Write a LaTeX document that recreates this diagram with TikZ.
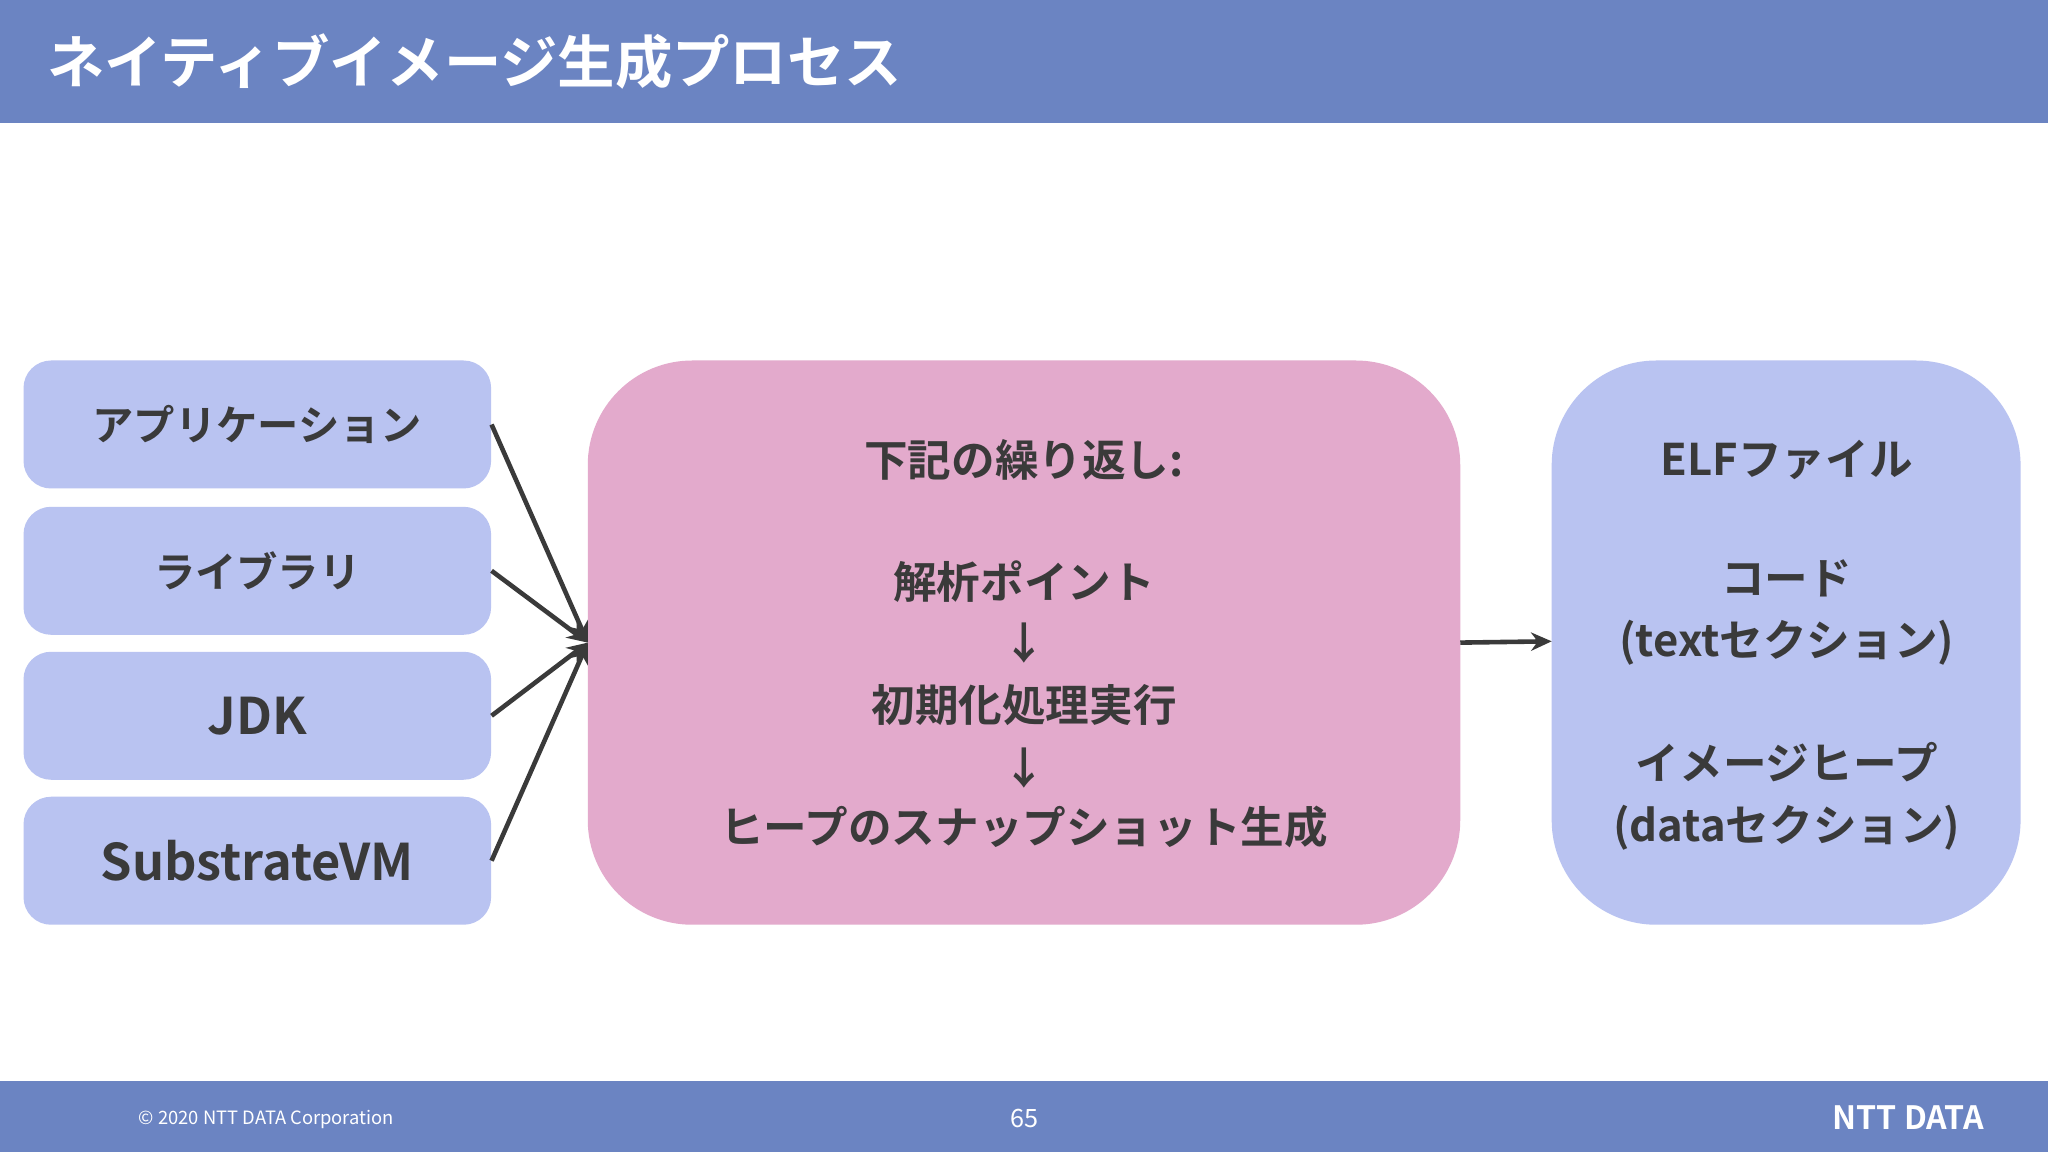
\documentclass[tikz,border=0pt]{standalone}
\usepackage{fontspec}
\setmainfont{Noto Sans CJK JP}[BoldFont={* Bold}]
\usetikzlibrary{arrows.meta}
\definecolor{hdr}{HTML}{6B84C2}
\definecolor{lbox}{HTML}{B9C3F1}
\definecolor{pbox}{HTML}{E3AACC}
\definecolor{txt}{HTML}{3A3A3A}
\tikzset{
 srcbox/.style={fill=lbox,draw=none,rounded corners=12pt,minimum width=358*0.02cm,minimum height=98*0.02cm,text=txt,font=\bfseries\fontsize{18}{20}\selectfont},
 bigsrc/.style={srcbox,font=\bfseries\fontsize{22}{24}\selectfont},
 lbl/.style={text=txt,font=\bfseries\fontsize{19}{27}\selectfont,align=center},
 conn/.style={draw=txt,line width=2pt,-{Stealth[length=9pt,width=8pt]}}
}
\begin{document}
\begin{tikzpicture}[x=0.02cm,y=-0.02cm]
\useasboundingbox (0,0) rectangle (1568,882);
\fill[white] (0,0) rectangle (1568,882);
\fill[hdr] (0,0) rectangle (1568,94);
\fill[hdr] (0,828) rectangle (1568,882);
\node[anchor=west,text=white,font=\bfseries\fontsize{25}{30}\selectfont] (title) at (30,47) {ネイティブイメージ生成プロセス};
\node[srcbox] (a) at (197,325) {アプリケーション};
\node[srcbox] (b) at (197,437) {ライブラリ};
\node[bigsrc] (c) at (197,548) {JDK};
\node[bigsrc] (d) at (197,659) {SubstrateVM};
\fill[pbox,rounded corners=80*0.02cm] (450,276) rectangle (1118,708);
\coordinate (mL) at (450,492);
\coordinate (mR) at (1118,492);
\fill[lbox,rounded corners=80*0.02cm] (1188,276) rectangle (1547,708);
\coordinate (rL) at (1188,491);
\node[lbl] (m1) at (784,352) {下記の繰り返し:};
\node[lbl] (m2) at (784,445) {解析ポイント};
\node[lbl] (m3) at (784,492) {↓};
\node[lbl] (m4) at (784,540) {初期化処理実行};
\node[lbl] (m5) at (784,588) {↓};
\node[lbl] (m6) at (784,633) {ヒープのスナップショット生成};
\node[lbl] (r1) at (1368,352) {ELFファイル};
\node[lbl] (r2) at (1368,469) {コード\\(textセクション)};
\node[lbl] (r3) at (1368,610) {イメージヒープ\\(dataセクション)};
\foreach \n in {a,b,c,d} \draw[conn] (\n.east) -- (mL);
\draw[conn] (mR) -- (rL);
\node[text=white,font=\fontsize{8}{10}\selectfont] (cp) at (204,857) {© 2020 NTT DATA Corporation};
\node[text=white,font=\fontsize{11}{13}\selectfont] (pg) at (784,856) {65};
\node[text=white,font=\bfseries\fontsize{14}{16}\selectfont] (logo) at (1461,856) {NTT DATA};
\end{tikzpicture}
\end{document}
